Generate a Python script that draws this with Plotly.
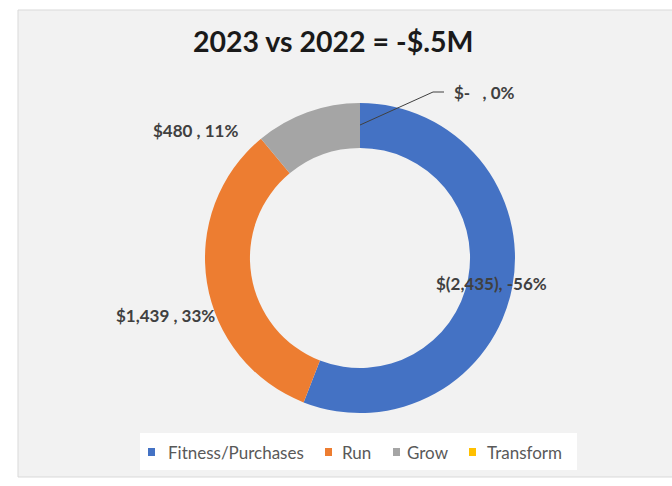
import plotly.graph_objects as go

# Year-over-year change by portfolio bucket ($K)
categories = ["Fitness/Purchases", "Run", "Grow", "Transform"]
changes = [-2435, 1439, 480, 0]
colors = ["#4472C4", "#ED7D31", "#A5A5A5", "#FFC000"]

W, H = 672, 486
FONT = "Lato, 'Open Sans', sans-serif"
total_abs = sum(abs(v) for v in changes)
net = sum(changes)


def accounting(v):
    if v == 0:
        return "$-   "
    if v < 0:
        return "$({:,})".format(-v)
    return "${:,} ".format(v)


def label_text(v):
    pct = round(100 * v / total_abs)
    return "{}, {}%".format(accounting(v), pct)


def px_x(x):
    return x / W


def px_y(y):
    return 1 - y / H


# Pie geometry (pixels)
cx, cy, r = 360, 258, 155

fig = go.Figure(
    go.Pie(
        labels=categories,
        values=[abs(v) for v in changes],
        marker=dict(colors=colors, line=dict(width=0)),
        hole=0.71,
        sort=False,
        direction="clockwise",
        rotation=0,
        textinfo="none",
        hoverinfo="label+value",
        showlegend=False,
        domain=dict(x=[px_x(cx - r), px_x(cx + r)], y=[px_y(cy + r), px_y(cy - r)]),
    )
)

# data label placement (pixel anchor) for each bucket
label_pos = {
    "Fitness/Purchases": (491, 283, "center"),
    "Run": (165, 315, "center"),
    "Grow": (195, 131, "center"),
    "Transform": (452, 93, "left"),
}

annotations = []
for cat, v in zip(categories, changes):
    x, y, anchor = label_pos[cat]
    annotations.append(
        dict(
            x=px_x(x), y=px_y(y), xref="paper", yref="paper",
            text="<b>" + label_text(v) + "</b>",
            showarrow=False, xanchor=anchor, yanchor="middle",
            font=dict(family=FONT, size=17, color="#404040"),
        )
    )

net_m = net / 1000
title_text = "2023 vs 2022 = {}${}M".format("-" if net_m < 0 else "", ("%.1f" % abs(net_m)).lstrip("0"))
annotations.append(
    dict(
        x=px_x(333), y=px_y(41), xref="paper", yref="paper",
        text="<b>" + title_text + "</b>", showarrow=False,
        xanchor="center", yanchor="middle",
        font=dict(family=FONT, size=28.5, color="#1a1a1a"),
    )
)

shapes = [
    # chart panel
    dict(type="rect", xref="paper", yref="paper",
         x0=px_x(18), x1=px_x(680), y0=px_y(477), y1=px_y(10),
         fillcolor="#F2F2F2", line=dict(color="#D9D9D9", width=1), layer="below"),
    # legend box
    dict(type="rect", xref="paper", yref="paper",
         x0=px_x(140), x1=px_x(577), y0=px_y(470), y1=px_y(433),
         fillcolor="white", line=dict(width=0), layer="below"),
    # leader line for the zero-value slice
    dict(type="path", xref="paper", yref="paper",
         path="M {} {} L {} {} L {} {}".format(
             px_x(360), px_y(125), px_x(433), px_y(92), px_x(444), px_y(92)),
         line=dict(color="#404040", width=1)),
]

# legend entries: swatch left edge and text start (pixels)
legend_x = [(148, 166), (325, 340), (393, 405), (469, 485)]
legend_y = 452
for cat, col, (sx, tx) in zip(categories, colors, legend_x):
    shapes.append(
        dict(type="rect", xref="paper", yref="paper",
             x0=px_x(sx), x1=px_x(sx + 7), y0=px_y(legend_y + 4), y1=px_y(legend_y - 4),
             fillcolor=col, line=dict(width=0))
    )
    annotations.append(
        dict(x=px_x(tx), y=px_y(legend_y), xref="paper", yref="paper",
             text=cat, showarrow=False, xanchor="left", yanchor="middle",
             font=dict(family=FONT, size=17, color="#595959"))
    )

fig.update_layout(
    width=W, height=H,
    margin=dict(l=0, r=0, t=0, b=0),
    paper_bgcolor="white",
    plot_bgcolor="white",
    shapes=shapes,
    annotations=annotations,
    showlegend=False,
)

fig.write_html("out.html")
